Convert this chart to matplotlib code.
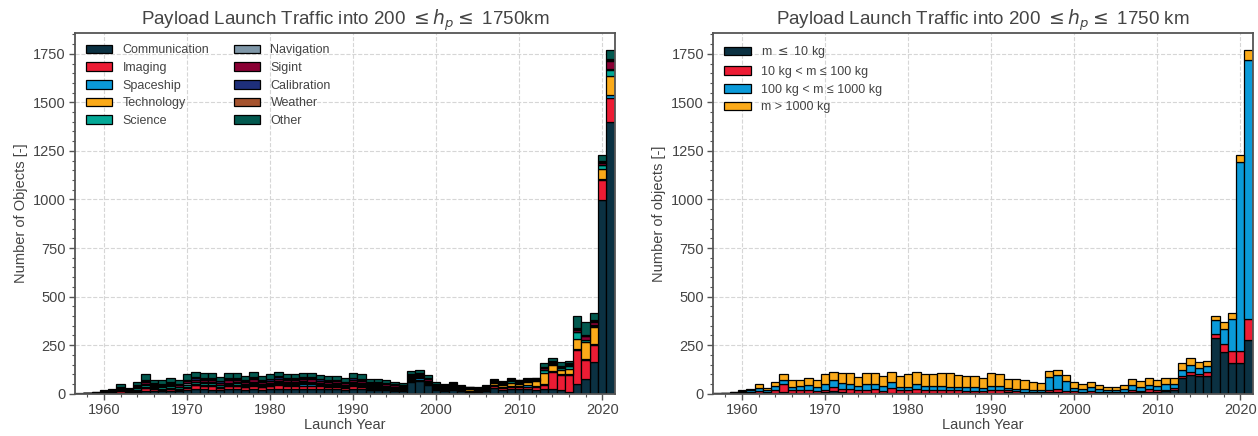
import numpy as np
import matplotlib
matplotlib.use("Agg")
import matplotlib.pyplot as plt
from matplotlib.ticker import MultipleLocator

years = list(range(1957, 2022))

# ---- left chart: mission type ----
communication = [0,1,1,2,3,5,4,8,15,12,12,14,12,18,26,22,20,18,22,24,20,24,20,22,26,24,24,26,26,24,22,22,20,26,24,20,20,18,16,15,60,68,45,18,15,18,12,10,10,12,28,20,25,22,25,20,26,26,17,9,52,77,163,998,1400]
imaging       = [0,0,1,2,3,10,3,5,12,10,8,10,9,12,17,16,20,12,16,15,12,18,14,16,20,16,15,16,15,14,12,14,10,14,12,6,6,5,4,4,5,5,5,5,4,5,4,3,3,4,10,10,12,10,12,14,17,86,77,86,172,95,86,100,120]
spaceship     = [0,0,0,0,0,0,0,1,2,2,2,2,2,3,3,3,3,3,3,3,3,4,3,4,5,6,7,8,7,5,5,4,4,6,5,5,5,5,5,6,8,10,6,5,5,6,3,3,2,3,6,5,5,6,8,8,8,5,5,8,5,5,5,5,17]
technology    = [0,1,1,2,3,3,3,4,5,4,4,4,3,4,2,3,3,3,3,3,3,3,3,3,3,3,3,3,3,3,3,3,3,3,3,4,5,5,4,3,4,4,4,5,6,6,6,6,5,6,10,10,15,14,15,22,57,29,22,25,55,90,90,55,98]
science       = [1,2,3,3,3,5,5,9,12,8,8,9,7,10,10,9,8,7,8,8,7,8,6,6,6,6,6,6,6,5,5,5,4,6,6,5,4,4,4,4,5,5,5,5,4,5,4,3,3,5,6,5,6,5,6,5,12,8,10,14,32,8,5,17,34]
navigation    = [0,0,0,1,2,3,2,4,6,4,4,5,4,6,3,5,5,4,5,5,5,5,5,5,5,5,5,5,5,5,5,5,4,5,5,4,4,4,3,3,3,3,3,3,2,3,2,2,2,2,3,3,4,3,3,3,3,3,3,3,3,3,3,3,3]
sigint        = [0,0,0,1,2,4,3,6,10,7,7,8,7,10,10,11,12,10,12,12,10,12,10,11,12,11,11,12,12,11,10,10,9,12,11,8,8,8,7,6,8,8,7,6,5,6,4,3,3,3,5,4,5,4,4,3,8,3,5,5,10,17,15,10,43]
calibration   = [0,0,0,1,1,2,1,3,5,3,3,4,4,6,8,7,7,6,7,7,6,8,6,7,8,7,7,7,7,7,6,6,5,7,7,5,5,4,4,4,4,4,4,3,3,3,2,2,2,2,3,2,3,3,3,2,3,3,3,3,3,3,5,3,5]
weather       = [0,0,1,1,1,2,2,3,4,3,3,3,3,4,5,4,4,4,5,4,4,4,4,4,4,4,4,4,4,4,4,4,3,4,4,3,3,3,2,2,2,2,2,2,2,2,2,2,1,2,2,2,2,2,2,2,3,3,3,3,5,5,5,5,5]
other         = [1,1,3,4,7,14,7,17,32,19,18,21,18,26,28,26,24,20,25,25,22,26,21,21,23,21,21,21,21,20,20,19,17,23,22,14,14,13,11,10,16,15,13,8,5,6,4,3,3,4,5,3,4,3,3,4,23,18,18,13,62,65,36,32,43]

mission_labels = ["Communication", "Imaging", "Spaceship", "Technology", "Science",
                  "Navigation", "Sigint", "Calibration", "Weather", "Other"]
mission_colors = ["#0b3142", "#ec1c34", "#0a9ad9", "#fbaa19", "#03a896",
                  "#7f97a8", "#8a0034", "#1e2f7a", "#a5532e", "#02594f"]

# ---- right chart: mass class ----
mass_small  = [0,2,2,3,4,5,4,6,8,5,5,6,5,8,12,8,6,5,6,6,5,6,5,5,6,5,5,5,5,5,5,5,4,5,5,8,6,5,4,4,9,8,6,5,5,6,5,4,5,6,10,8,10,10,12,20,81,95,91,91,289,215,159,157,275]
mass_medium = [1,2,3,4,5,10,6,14,43,12,12,14,10,12,22,18,16,12,14,16,10,22,12,14,20,14,14,14,12,14,10,10,8,12,12,9,8,6,5,5,12,18,10,8,6,8,5,4,4,5,8,8,12,8,8,9,9,17,12,21,17,43,60,65,108]
mass_large  = [1,1,3,6,8,15,10,20,18,20,22,25,22,30,38,30,28,22,30,28,25,34,20,18,22,20,22,22,20,18,18,18,15,25,22,14,12,14,10,12,65,69,52,17,14,18,12,10,8,12,25,20,25,24,28,22,34,38,29,31,72,77,167,972,1337]
mass_huge   = [0,0,2,4,8,18,10,20,34,35,30,35,32,49,40,50,56,48,56,56,52,50,55,62,64,64,62,67,69,61,59,59,52,64,60,43,48,44,41,36,29,29,26,30,26,28,21,19,17,20,35,28,34,30,33,32,36,34,31,26,21,33,27,34,48]

mass_labels = ["m $\\leq$ 10 kg", "10 kg < m \u2264 100 kg",
               "100 kg < m \u2264 1000 kg", "m > 1000 kg"]
mass_colors = ["#0b3142", "#ec1c34", "#0a9ad9", "#fbaa19"]

plt.rcParams['font.family'] = ['Liberation Sans', 'DejaVu Sans']
plt.rcParams['mathtext.fontset'] = 'dejavusans'
txt = "#444444"
spine_c = "#555555"

fig = plt.figure(figsize=(12.58, 4.36), dpi=100)
axL = fig.add_axes([0.0596, 0.097, 0.429, 0.827])
axR = fig.add_axes([0.5668, 0.097, 0.429, 0.827])


def style(ax):
    ax.set_axisbelow(True)
    ax.grid(True, which='major', linestyle='--', color='#d6d6d6', linewidth=0.8)
    for s in ax.spines.values():
        s.set_color(spine_c)
        s.set_linewidth(1.3)
    ax.tick_params(which='both', direction='out', colors=spine_c, labelcolor=txt, labelsize=10.5)
    ax.tick_params(which='major', length=4, width=1, pad=2.5)
    ax.tick_params(which='minor', length=2.5, width=0.8)
    ax.xaxis.set_major_locator(MultipleLocator(10))
    ax.xaxis.set_minor_locator(MultipleLocator(2))
    ax.yaxis.set_major_locator(MultipleLocator(250))
    ax.yaxis.set_minor_locator(MultipleLocator(50))
    ax.set_xlim(1956.5, 2021.5)
    ax.set_xlabel("Launch Year", color=txt, fontsize=10.5, labelpad=1)


x = np.array(years)

bottom = np.zeros(len(years))
for vals, lab, col in zip([communication, imaging, spaceship, technology, science,
                           navigation, sigint, calibration, weather, other],
                          mission_labels, mission_colors):
    v = np.array(vals)
    axL.bar(x, v, width=1.0, bottom=bottom, color=col, edgecolor='black',
            linewidth=0.9, label=lab)
    bottom += v
axL.set_ylim(0, bottom.max() * 1.05)
style(axL)
axL.set_ylabel("Number of Objects [-]", color=txt, fontsize=10.5)
axL.set_title("Payload Launch Traffic into 200 $\\leq h_p \\leq$ 1750km", color=txt, fontsize=13.5, pad=5)
axL.legend(loc='upper left', ncol=2, frameon=False, fontsize=9, labelcolor=txt,
           handlelength=2.1, columnspacing=2.0, labelspacing=0.45)

bottom = np.zeros(len(years))
for vals, lab, col in zip([mass_small, mass_medium, mass_large, mass_huge],
                          mass_labels, mass_colors):
    v = np.array(vals)
    axR.bar(x, v, width=1.0, bottom=bottom, color=col, edgecolor='black',
            linewidth=0.9, label=lab)
    bottom += v
axR.set_ylim(0, bottom.max() * 1.05)
style(axR)
axR.set_ylabel("Number of objects [-]", color=txt, fontsize=10.5)
axR.set_title("Payload Launch Traffic into 200 $\\leq h_p \\leq$ 1750 km", color=txt, fontsize=13.5, pad=5)
axR.legend(loc='upper left', ncol=1, frameon=False, fontsize=9, labelcolor=txt,
           handlelength=2.1, labelspacing=0.45)

fig.savefig("out.png", dpi=100)
